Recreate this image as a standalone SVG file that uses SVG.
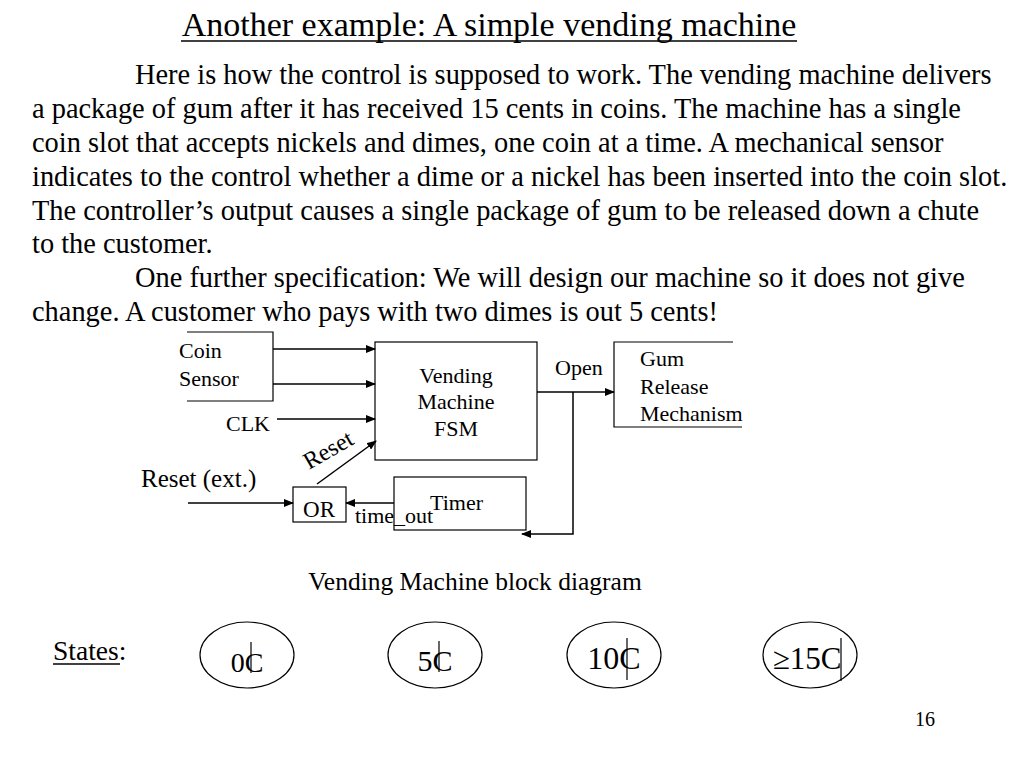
<svg xmlns="http://www.w3.org/2000/svg" width="1024" height="768" viewBox="0 0 1024 768">
<defs>
<marker id="ah" markerWidth="10" markerHeight="8" refX="9" refY="4" orient="auto" markerUnits="userSpaceOnUse">
<path d="M0,0 L10,4 L0,8 z" fill="#000"/>
</marker>
<style>
text{font-family:"Liberation Serif","Times New Roman",serif;fill:#000}
.para{font-size:28.4px}
.lbl{font-size:22px}
.box{fill:none;stroke:#000;stroke-width:1.2}
.wire{fill:none;stroke:#000;stroke-width:1.5}
.st{fill:none;stroke:#000;stroke-width:1.2}
.bar{stroke:#000;stroke-width:1.2}
.ul{stroke:#000;stroke-width:1.5}
</style>
</defs>
<rect width="1024" height="768" fill="#fff"/>
<text x="489" y="36" font-size="34" text-anchor="middle">Another example: A simple vending machine</text>
<line class="ul" x1="181" y1="41" x2="797" y2="41"/>
<g>
<text class="para" x="135" y="84">Here is how the control is supposed to work. The vending machine delivers</text>
<text class="para" x="32" y="118">a package of gum after it has received 15 cents in coins. The machine has a single</text>
<text class="para" x="32" y="152">coin slot that accepts nickels and dimes, one coin at a time. A mechanical sensor</text>
<text class="para" x="32" y="186">indicates to the control whether a dime or a nickel has been inserted into the coin slot.</text>
<text class="para" x="32" y="220">The controller’s output causes a single package of gum to be released down a chute</text>
<text class="para" x="32" y="253">to the customer.</text>
<text class="para" x="135" y="287">One further specification: We will design our machine so it does not give</text>
<text class="para" x="32" y="321">change. A customer who pays with two dimes is out 5 cents!</text>
</g>
<g id="coin-sensor">
<path class="box" d="M187,332 H273 V401 H187"/>
<text class="lbl" x="179" y="358">Coin</text>
<text class="lbl" x="179" y="386">Sensor</text>
</g>
<g id="fsm">
<rect class="box" x="375" y="342" width="162" height="118"/>
<text class="lbl" x="456" y="383" text-anchor="middle">Vending</text>
<text class="lbl" x="456" y="409" text-anchor="middle">Machine</text>
<text class="lbl" x="456" y="436" text-anchor="middle">FSM</text>
</g>
<g id="gum">
<path class="box" d="M733,342 H614 V427 H742"/>
<text class="lbl" x="640" y="366">Gum</text>
<text class="lbl" x="640" y="394">Release</text>
<text class="lbl" x="640" y="421">Mechanism</text>
</g>
<g id="or">
<rect class="box" x="293" y="487" width="53" height="35"/>
<text x="319" y="517" font-size="23" text-anchor="middle">OR</text>
</g>
<g id="timer">
<rect class="box" x="394" y="477" width="132" height="53"/>
<text class="lbl" x="430" y="510">Timer</text>
</g>
<g id="connectors">
<line class="wire" x1="273" y1="349" x2="375" y2="349" marker-end="url(#ah)"/>
<line class="wire" x1="273" y1="384" x2="375" y2="384" marker-end="url(#ah)"/>
<line class="wire" x1="277" y1="419" x2="375" y2="419" marker-end="url(#ah)"/>
<line class="wire" x1="317" y1="484" x2="376" y2="441" marker-end="url(#ah)"/>
<line class="wire" x1="188" y1="503" x2="293" y2="503" marker-end="url(#ah)"/>
<line class="wire" x1="394" y1="503" x2="346" y2="503" marker-end="url(#ah)"/>
<line class="wire" x1="537" y1="392" x2="614" y2="392" marker-end="url(#ah)"/>
<polyline class="wire" points="573,392 573,534 522,534" marker-end="url(#ah)" stroke="#333"/>
</g>
<text class="lbl" x="226" y="431">CLK</text>
<text x="141" y="487" font-size="25">Reset (ext.)</text>
<text x="0" y="0" font-size="24" transform="translate(309,470) rotate(-30)">Reset</text>
<text class="lbl" x="355" y="523">time_out</text>
<text class="lbl" x="555" y="375">Open</text>
<text x="475" y="590" font-size="25.5" text-anchor="middle">Vending Machine block diagram</text>
<text x="53" y="660" font-size="27.5">States:</text>
<line class="ul" x1="53" y1="664" x2="120" y2="664"/>
<g id="s0">
<ellipse class="st" cx="247" cy="655" rx="47" ry="33"/>
<text x="247" y="672" font-size="28" text-anchor="middle">0C</text>
<line class="bar" x1="251" y1="642" x2="251" y2="673"/>
</g>
<g id="s5">
<ellipse class="st" cx="435" cy="655" rx="47" ry="33"/>
<text x="435" y="671" font-size="30" text-anchor="middle">5C</text>
<line class="bar" x1="439" y1="641" x2="439" y2="672"/>
</g>
<g id="s10">
<ellipse class="st" cx="614" cy="655" rx="47" ry="33"/>
<text x="614" y="669" font-size="32" text-anchor="middle">10C</text>
<line class="bar" x1="627" y1="638" x2="627" y2="680"/>
</g>
<g id="s15">
<ellipse class="st" cx="810" cy="655" rx="47" ry="33"/>
<text x="807" y="669" font-size="31" text-anchor="middle">≥15C</text>
<line class="bar" x1="841" y1="638" x2="841" y2="681"/>
</g>
<text x="915" y="726" font-size="20">16</text>
</svg>
